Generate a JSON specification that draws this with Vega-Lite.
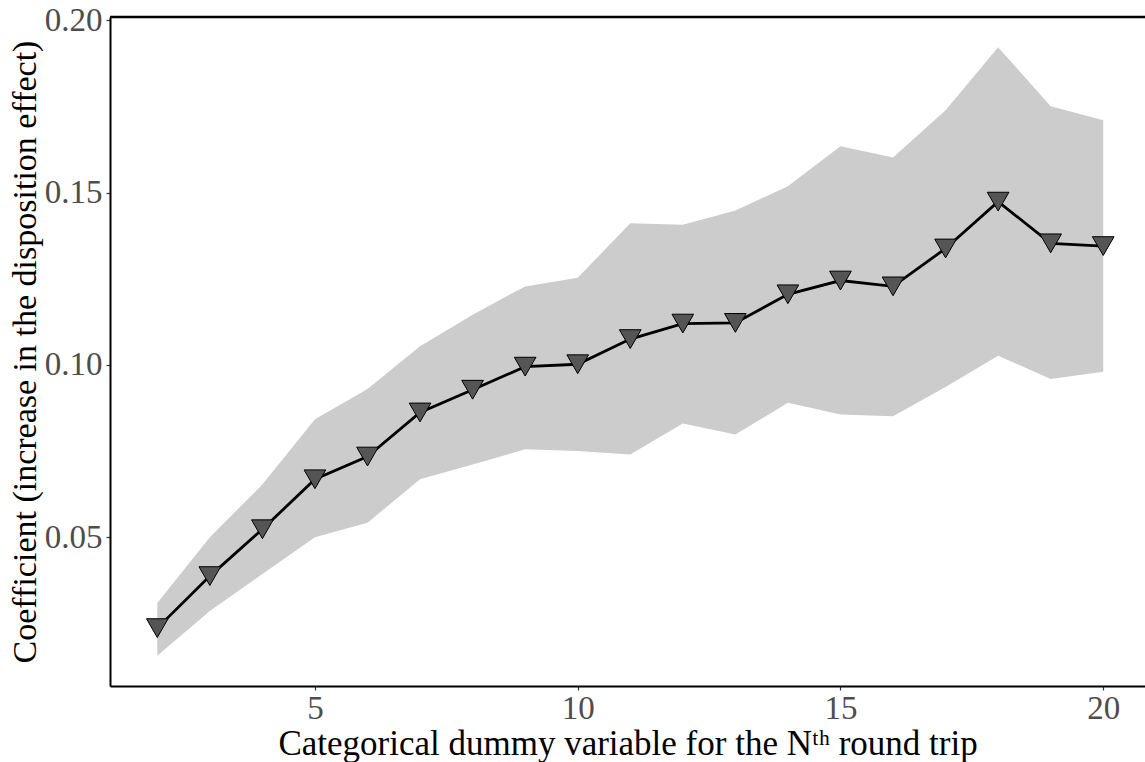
{
  "$schema": "https://vega.github.io/schema/vega-lite/v6.json",
  "width": 1035,
  "height": 669,
  "autosize": {"type": "none"},
  "padding": {"left": 110, "top": 17, "right": 0, "bottom": 76},
  "background": "white",
  "config": {
    "view": {"stroke": null},
    "font": "Liberation Serif",
    "axis": {
      "grid": false,
      "domainColor": "black",
      "domainWidth": 2,
      "tickColor": "#333333",
      "tickWidth": 1.2,
      "tickSize": 4,
      "labelFont": "Liberation Serif",
      "labelFontSize": 33,
      "labelColor": "#4D4D4D",
      "titleFont": "Liberation Serif",
      "titleFontSize": 35,
      "titleFontWeight": "normal",
      "titleColor": "black"
    }
  },
  "data": {
    "values": [
      {"n": 2, "coef": 0.0236, "lower": 0.0156, "upper": 0.0309},
      {"n": 3, "coef": 0.0387, "lower": 0.0286, "upper": 0.0500},
      {"n": 4, "coef": 0.0523, "lower": 0.0393, "upper": 0.0653},
      {"n": 5, "coef": 0.0668, "lower": 0.0500, "upper": 0.0842},
      {"n": 6, "coef": 0.0734, "lower": 0.0542, "upper": 0.0930},
      {"n": 7, "coef": 0.0862, "lower": 0.0668, "upper": 0.1054},
      {"n": 8, "coef": 0.0928, "lower": 0.0711, "upper": 0.1146},
      {"n": 9, "coef": 0.0995, "lower": 0.0755, "upper": 0.1228},
      {"n": 10, "coef": 0.1002, "lower": 0.0750, "upper": 0.1253},
      {"n": 11, "coef": 0.1075, "lower": 0.0740, "upper": 0.1411},
      {"n": 12, "coef": 0.1120, "lower": 0.0830, "upper": 0.1407},
      {"n": 13, "coef": 0.1122, "lower": 0.0798, "upper": 0.1448},
      {"n": 14, "coef": 0.1205, "lower": 0.0890, "upper": 0.1519},
      {"n": 15, "coef": 0.1245, "lower": 0.0856, "upper": 0.1635},
      {"n": 16, "coef": 0.1228, "lower": 0.0851, "upper": 0.1602},
      {"n": 17, "coef": 0.1338, "lower": 0.0936, "upper": 0.1739},
      {"n": 18, "coef": 0.1474, "lower": 0.1027, "upper": 0.1922},
      {"n": 19, "coef": 0.1353, "lower": 0.0959, "upper": 0.1751},
      {"n": 20, "coef": 0.1345, "lower": 0.0980, "upper": 0.1710}
    ]
  },
  "layer": [
    {
      "mark": {"type": "area", "color": "#CCCCCC", "opacity": 1},
      "encoding": {
        "x": {
          "field": "n", "type": "quantitative",
          "scale": {"domain": [1.1, 20.795], "nice": false, "zero": false},
          "axis": {
            "values": [5, 10, 15, 20],
            "title": "Categorical dummy variable for the Nᵗʰ round trip",
            "labelPadding": 2,
            "titlePadding": 1
          }
        },
        "y": {
          "field": "lower", "type": "quantitative",
          "scale": {"domain": [0.0068, 0.201], "nice": false, "zero": false},
          "axis": {
            "values": [0.05, 0.10, 0.15, 0.20],
            "format": ".2f",
            "title": "Coefficient (increase in the disposition effect)",
            "labelPadding": 4,
            "titlePadding": 2,
            "titleFontSize": 34
          }
        },
        "y2": {"field": "upper"}
      }
    },
    {
      "data": {"values": [{"top": 0.201}]},
      "mark": {"type": "rule", "color": "black", "strokeWidth": 2.5},
      "encoding": {"y": {"field": "top", "type": "quantitative"}}
    },
    {
      "mark": {"type": "line", "color": "black", "strokeWidth": 2.8},
      "encoding": {
        "x": {"field": "n", "type": "quantitative"},
        "y": {"field": "coef", "type": "quantitative"}
      }
    },
    {
      "mark": {"type": "point", "shape": "triangle-down", "filled": true, "fill": "#555555", "stroke": "black", "strokeWidth": 1, "size": 470, "opacity": 1},
      "encoding": {
        "x": {"field": "n", "type": "quantitative"},
        "y": {"field": "coef", "type": "quantitative"}
      }
    }
  ]
}
